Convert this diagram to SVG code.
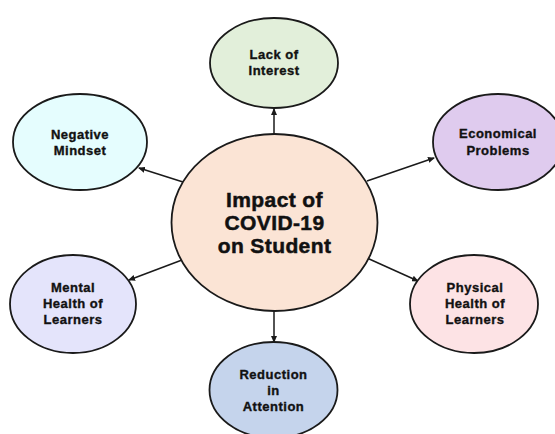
<svg xmlns="http://www.w3.org/2000/svg" width="555" height="434" viewBox="0 0 555 434">
<defs>
<style>
.n{stroke:#1a1a1a;stroke-width:1.8}
.t{font-family:"Liberation Sans",Arial,sans-serif;font-weight:bold;font-size:13px;letter-spacing:0.5px;fill:#111;stroke:#111;stroke-width:0.35;text-anchor:middle}
.c{font-size:21px;letter-spacing:0.4px;stroke-width:0.5}
.e{stroke:#1a1a1a;stroke-width:1.5;fill:none;marker-end:url(#ah)}
</style>
<marker id="ah" markerWidth="7" markerHeight="6" refX="6" refY="3" orient="auto" markerUnits="userSpaceOnUse">
<path d="M0,0 L7,3 L0,6 z" fill="#1a1a1a"/>
</marker>
</defs>
<rect width="555" height="434" fill="#ffffff"/>
<g id="connectors">
<line class="e" x1="274" y1="134" x2="274" y2="109"/>
<line class="e" x1="183" y1="182" x2="139" y2="168"/>
<line class="e" x1="367" y1="181" x2="434" y2="158"/>
<line class="e" x1="182" y1="260" x2="129" y2="280"/>
<line class="e" x1="367" y1="258" x2="418" y2="281"/>
<line class="e" x1="274" y1="311" x2="274" y2="342"/>
</g>
<g id="center">
<ellipse class="n" cx="274.5" cy="222.5" rx="103" ry="88.5" fill="#fbe4d5"/>
<text class="t c" x="274.5" y="207">Impact of</text>
<text class="t c" x="274.5" y="230">COVID-19</text>
<text class="t c" x="274.5" y="253">on Student</text>
</g>
<g id="lack">
<ellipse class="n" cx="274" cy="63" rx="64" ry="45" fill="#e2efda"/>
<text class="t" x="274" y="59">Lack of</text>
<text class="t" x="274" y="75">Interest</text>
</g>
<g id="negative">
<ellipse class="n" cx="80" cy="142" rx="67" ry="48" fill="#e5fdfe"/>
<text class="t" x="80" y="139">Negative</text>
<text class="t" x="80" y="155">Mindset</text>
</g>
<g id="economical">
<ellipse class="n" cx="498" cy="142" rx="65" ry="48" fill="#dfcbee"/>
<text class="t" x="498" y="138">Economical</text>
<text class="t" x="498" y="155">Problems</text>
</g>
<g id="mental">
<ellipse class="n" cx="73" cy="304" rx="63" ry="49" fill="#e4e4fb"/>
<text class="t" x="73" y="292">Mental</text>
<text class="t" x="73" y="308">Health of</text>
<text class="t" x="73" y="324">Learners</text>
</g>
<g id="physical">
<ellipse class="n" cx="474" cy="304" rx="64" ry="49" fill="#fde3e5"/>
<text class="t" x="475" y="292">Physical</text>
<text class="t" x="475" y="308">Health of</text>
<text class="t" x="475" y="324">Learners</text>
</g>
<g id="reduction">
<ellipse class="n" cx="273.5" cy="390" rx="64" ry="48" fill="#c5d4ec"/>
<text class="t" x="273.5" y="379">Reduction</text>
<text class="t" x="273.5" y="395">in</text>
<text class="t" x="273.5" y="411">Attention</text>
</g>
</svg>
